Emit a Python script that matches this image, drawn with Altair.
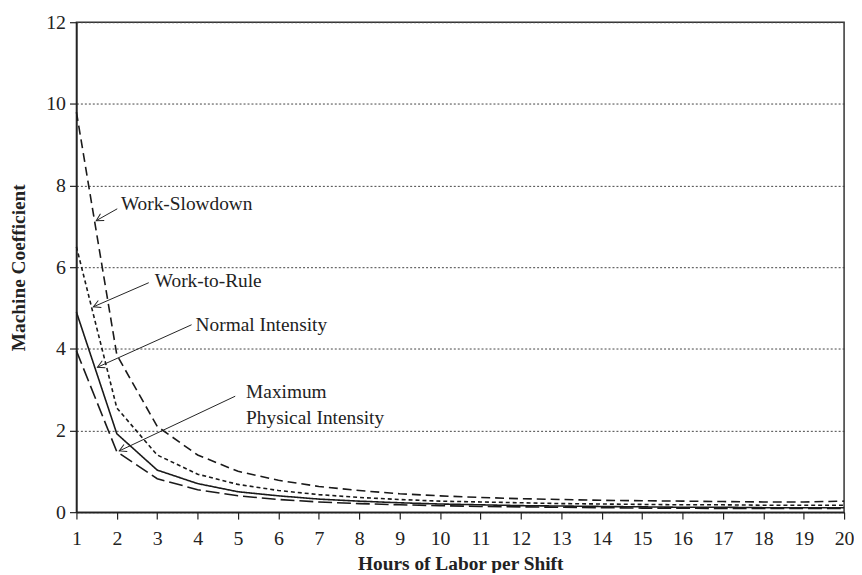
import math
import altair as alt
import pandas as pd

# ---- data ----
hours = list(range(1, 21))
work_slowdown = [9.8, 3.85, 2.1, 1.4, 1.0, 0.78, 0.63, 0.53, 0.45, 0.40,
                 0.36, 0.33, 0.31, 0.29, 0.28, 0.27, 0.26, 0.25, 0.25, 0.27]
work_to_rule = [6.5, 2.55, 1.4, 0.93, 0.68, 0.53, 0.43, 0.36, 0.31, 0.27,
                0.25, 0.23, 0.21, 0.20, 0.19, 0.18, 0.18, 0.17, 0.17, 0.17]
normal_intensity = [4.9, 1.92, 1.03, 0.70, 0.50, 0.40, 0.32, 0.27, 0.23, 0.20,
                    0.18, 0.16, 0.15, 0.14, 0.13, 0.12, 0.12, 0.11, 0.11, 0.11]
max_physical = [3.95, 1.48, 0.82, 0.55, 0.40, 0.31, 0.25, 0.21, 0.18, 0.16,
                0.14, 0.13, 0.12, 0.11, 0.10, 0.10, 0.09, 0.09, 0.09, 0.09]

series_names = ["Work-Slowdown", "Work-to-Rule", "Normal Intensity",
                "Maximum Physical Intensity"]
series_values = [work_slowdown, work_to_rule, normal_intensity, max_physical]
series_dash = [[9, 5], [4, 3], [1, 0], [14, 5]]

x_ticks = list(range(1, 21))
y_ticks = [0, 2, 4, 6, 8, 10, 12]

# annotations (data units): label lines, text anchor, arrow tail, arrow tip
ann_labels = [["Work-Slowdown"], ["Work-to-Rule"], ["Normal Intensity"],
              ["Maximum", "Physical Intensity"]]
ann_text_x = [2.10, 2.94, 3.95, 5.20]
ann_text_y = [7.55, 5.65, 4.59, 2.94]
ann_tail_x = [2.01, 2.79, 3.85, 4.93]
ann_tail_y = [7.43, 5.62, 4.59, 2.84]
ann_tip_x = [1.49, 1.42, 1.52, 2.06]
ann_tip_y = [7.14, 5.03, 3.55, 1.50]

# ---- layout ----
W, H = 774, 494
FONT = "Liberation Serif"
FS_ANN = 19.5
FS_TICK = 20
FS_TITLE = 19.5
LINE_GAP = 0.63  # second line offset in y units

rows = []
for name, vals in zip(series_names, series_values):
    for h, v in zip(hours, vals):
        rows.append({"hours": h, "coef": v, "series": name})
df = pd.DataFrame(rows)

xs = alt.Scale(domain=[1, 20], nice=False, zero=False)
ys = alt.Scale(domain=[0, 12], nice=False)
x_axis = alt.Axis(values=x_ticks, title="Hours of Labor per Shift",
                  grid=False, tickSize=7, labelPadding=10, titlePadding=6,
                  labelFlush=False, labelOverlap=False,
                  labelFontSize=FS_TICK, titleFontSize=FS_TITLE)
y_axis = alt.Axis(values=y_ticks, title="Machine Coefficient",
                  grid=True, tickSize=7, labelPadding=4, titlePadding=17,
                  labelFlush=False, labelOverlap=False,
                  labelFontSize=FS_TICK, titleFontSize=FS_TITLE)


def X(f):
    return alt.X(f, scale=xs, axis=x_axis, title="Hours of Labor per Shift")


def Y(f):
    return alt.Y(f, scale=ys, axis=y_axis, title="Machine Coefficient")


lines = alt.Chart(df).mark_line(color="#1a1a1a", strokeWidth=1.6).encode(
    x=X("hours:Q"),
    y=Y("coef:Q"),
    strokeDash=alt.StrokeDash("series:N",
                              scale=alt.Scale(domain=series_names,
                                              range=series_dash),
                              legend=None),
    detail="series:N",
)

# text rows
trows = []
for lab, tx, ty in zip(ann_labels, ann_text_x, ann_text_y):
    for i, l in enumerate(lab):
        trows.append({"tx": tx, "ty": ty - i * LINE_GAP, "label": l})
tdf = pd.DataFrame(trows)

texts = alt.Chart(tdf).mark_text(
    align="left", baseline="middle", font=FONT, fontSize=FS_ANN, color="#222"
).encode(
    x=X("tx:Q"),
    y=Y("ty:Q"),
    text="label:N",
)

# arrows
arows = []
px_x = W / 19.0
px_y = H / 12.0
for a, b, c, d in zip(ann_tail_x, ann_tail_y, ann_tip_x, ann_tip_y):
    dx = (c - a) * px_x
    dy = -(d - b) * px_y
    ang = math.degrees(math.atan2(dy, dx)) % 360
    arows.append({"ax": a, "ay": b, "bx": c, "by": d, "ang": ang})
adf = pd.DataFrame(arows)

shafts = alt.Chart(adf).mark_rule(color="#222", strokeWidth=1).encode(
    x=X("ax:Q"),
    y=Y("ay:Q"),
    x2="bx:Q",
    y2="by:Q",
)

heads = alt.Chart(adf).mark_point(
    shape="M -1 -0.55 L 0 0 L -1 0.55", filled=False, color="#222",
    strokeWidth=1, size=200, opacity=1
).encode(
    x=X("bx:Q"),
    y=Y("by:Q"),
    angle=alt.Angle("ang:Q", scale=None),
)

chart = alt.layer(lines, shafts, heads, texts).properties(
    width=W, height=H,
    autosize=alt.AutoSizeParams(type="none"),
    padding={"left": 69, "top": 12, "right": 10, "bottom": 59},
    background="white",
).configure_view(
    stroke="#333", strokeWidth=1.5
).configure_axis(
    labelFont=FONT, labelFontSize=FS_TICK, labelColor="#222",
    titleFont=FONT, titleFontSize=FS_TITLE, titleFontWeight="bold",
    titleColor="#222",
    domainColor="#222", domainWidth=1.5, tickColor="#222", tickWidth=1.2,
    gridColor="#444", gridDash=[2, 2], gridWidth=1,
)

chart.save("out.html", embed_options={"renderer": "svg", "actions": False})
